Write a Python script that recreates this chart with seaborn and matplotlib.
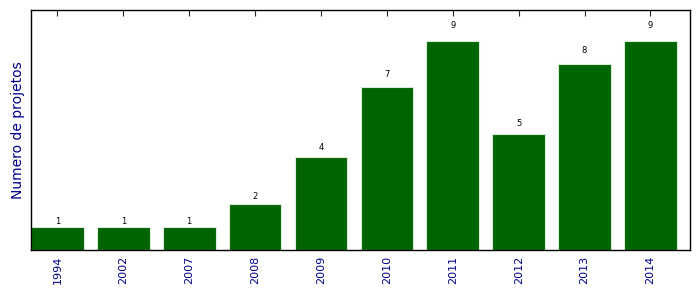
import matplotlib
matplotlib.use("Agg")
import matplotlib.pyplot as plt
import seaborn as sns
import pandas as pd

years = ["1994", "2002", "2007", "2008", "2009", "2010", "2011", "2012", "2013", "2014"]
counts = [1, 1, 1, 2, 4, 7, 9, 5, 8, 9]

sns.set_style("white")
plt.rcParams['font.family'] = ['DejaVu Sans']

df = pd.DataFrame({"ano": years, "n": counts})

fig = plt.figure(figsize=(6.99, 2.92), dpi=100)
ax = fig.add_axes([31/699, 1-250/292, (690-31)/699, 240/292])

sns.barplot(data=df, x="ano", y="n", color="#006400", width=0.8,
            edgecolor="#d8ecd8", linewidth=0.8, saturation=1, ax=ax)

for i, v in enumerate(counts):
    ax.text(i, v * 1.05, str(v), ha="center", va="bottom", fontsize=6, color="black")

ax.set_xlim(-0.4, 9.6)
ax.set_ylim(0, 10.33)
ax.set_yticks([])
ax.set_xlabel("")
ax.set_ylabel("Numero de projetos", color="#00008B", fontsize=10)
ax.tick_params(axis="x", direction="in", length=4, width=0.8, top=True, bottom=True,
               labelrotation=90, labelsize=8, labelcolor="#00008B", pad=4)
for s in ax.spines.values():
    s.set_visible(True)
    s.set_color("black")
    s.set_linewidth(1.0)

fig.savefig("out.png", dpi=100)
